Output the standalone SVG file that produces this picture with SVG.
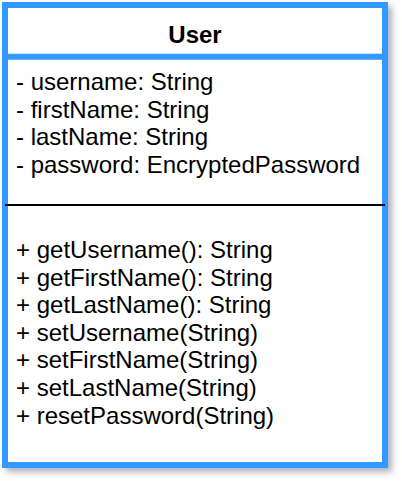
<svg xmlns="http://www.w3.org/2000/svg" width="402" height="482" viewBox="0 0 402 482">
  <defs>
    <filter id="shadow" x="-10%" y="-10%" width="130%" height="130%">
      <feDropShadow dx="4" dy="4" stdDeviation="3" flood-color="#4a5070" flood-opacity="0.45"/>
    </filter>
    <style>
      .box { fill: #ffffff; stroke: #3399ff; stroke-width: 6; }
      .sep { stroke: #3399ff; stroke-width: 6; }
      .div { stroke: #000000; stroke-width: 2; }
      .title { font-family: "Liberation Sans", Arial, sans-serif; font-size: 24px; font-weight: bold; fill: #000; }
      .item { font-family: "Liberation Sans", Arial, sans-serif; font-size: 24px; fill: #000; }
    </style>
  </defs>
  <g id="User">
    <rect class="box" x="5" y="5" width="380" height="460" filter="url(#shadow)"/>
    <line class="sep" x1="5" y1="56.7" x2="385" y2="56.7"/>
    <text class="title" x="195" y="43.3" text-anchor="middle">User</text>
    <text class="item" x="16" y="90">- username: String</text>
    <text class="item" x="16" y="117.6">- firstName: String</text>
    <text class="item" x="16" y="145.2">- lastName: String</text>
    <text class="item" x="16" y="172.8">- password: EncryptedPassword</text>
    <line class="div" x1="5" y1="205" x2="385" y2="205"/>
    <text class="item" x="16" y="258">+ getUsername(): String</text>
    <text class="item" x="16" y="285.6">+ getFirstName(): String</text>
    <text class="item" x="16" y="313.2">+ getLastName(): String</text>
    <text class="item" x="16" y="340.8">+ setUsername(String)</text>
    <text class="item" x="16" y="368.4">+ setFirstName(String)</text>
    <text class="item" x="16" y="396">+ setLastName(String)</text>
    <text class="item" x="16" y="423.6">+ resetPassword(String)</text>
  </g>
  <g id="connectors"></g>
</svg>
